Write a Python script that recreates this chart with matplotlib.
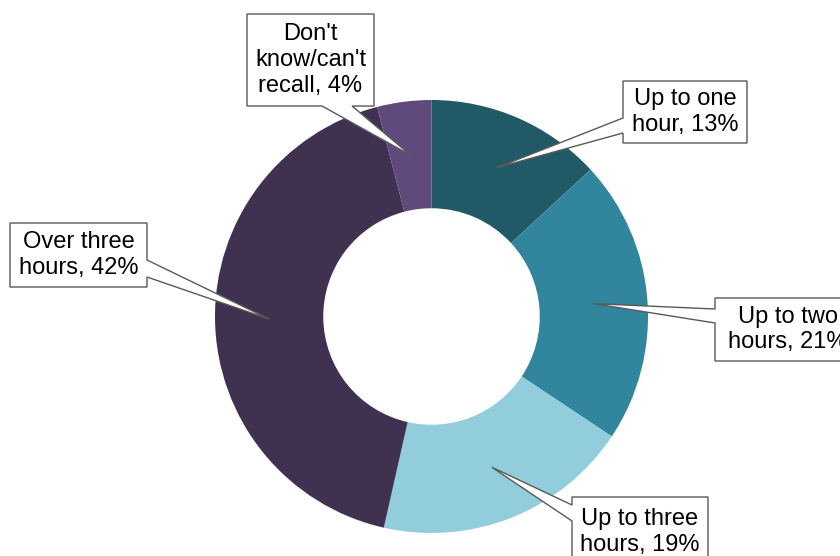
import numpy as np
from matplotlib import pyplot as plt
from matplotlib.patches import Polygon

plt.rcParams['font.family'] = ['Liberation Sans', 'DejaVu Sans']

# доли ответов, %
labels = ['Up to one\nhour, 13%', 'Up to two\nhours, 21%', 'Up to three\nhours, 19%',
          'Over three\nhours, 42%', "Don't\nknow/can't\nrecall, 4%"]
values = [13, 21, 19, 42, 4]
colors = ['#215967', '#31859c', '#92cddc', '#403151', '#604a7b']

W, H = 840, 556
cx, cy, R = 431.5, 316.5, 216.5

# рамки подписей (x0, y0, x1, y1), сторона выноски и её основание
boxes = [(623, 81, 747, 143), (715, 298, 860, 361), (572, 497, 708, 567),
         (10, 223, 147, 287), (247, 14, 374, 106)]
sides = ['left', 'left', 'left', 'right', 'bottom']
bases = [(118, 133), (309, 323), (505, 521), (260, 277), (322, 352)]


def callout_vertices(box, side, base, tip):
    x0, y0, x1, y1 = box
    b0, b1 = base
    if side == 'left':
        pts = [(x0, y0), (x1, y0), (x1, y1), (x0, y1), (x0, b1), tip, (x0, b0)]
    elif side == 'right':
        pts = [(x0, y0), (x1, y0), (x1, b0), tip, (x1, b1), (x1, y1), (x0, y1)]
    else:
        pts = [(x0, y0), (x1, y0), (x1, y1), (b1, y1), tip, (b0, y1), (x0, y1)]
    # переводим в координаты с осью y вверх
    return [(x, H - y) for x, y in pts]


fig = plt.figure(figsize=(W / 100, H / 100), dpi=100)
ax = fig.add_axes([0, 0, 1, 1])

wedges, _ = ax.pie(values, colors=colors, startangle=90, counterclock=False,
                   radius=R, center=(cx, H - cy),
                   wedgeprops=dict(width=R / 2, linewidth=0))

for w, text, box, side, base in zip(wedges, labels, boxes, sides, bases):
    a = np.deg2rad((w.theta1 + w.theta2) / 2)
    r = R * 0.75
    tip = (cx + r * np.cos(a), cy - r * np.sin(a))
    poly = Polygon(callout_vertices(box, side, base, tip), closed=True,
                   facecolor='white', edgecolor='#595959', linewidth=1.0,
                   zorder=3)
    ax.add_patch(poly)
    x0, y0, x1, y1 = box
    ax.text((x0 + x1) / 2, H - (y0 + y1) / 2, text, ha='center', va='center',
            fontsize=17, linespacing=1.22, color='black', zorder=4)

ax.set_xlim(0, W)
ax.set_ylim(0, H)
ax.set_aspect('equal')
ax.axis('off')

plt.savefig('out.png', dpi=100)
